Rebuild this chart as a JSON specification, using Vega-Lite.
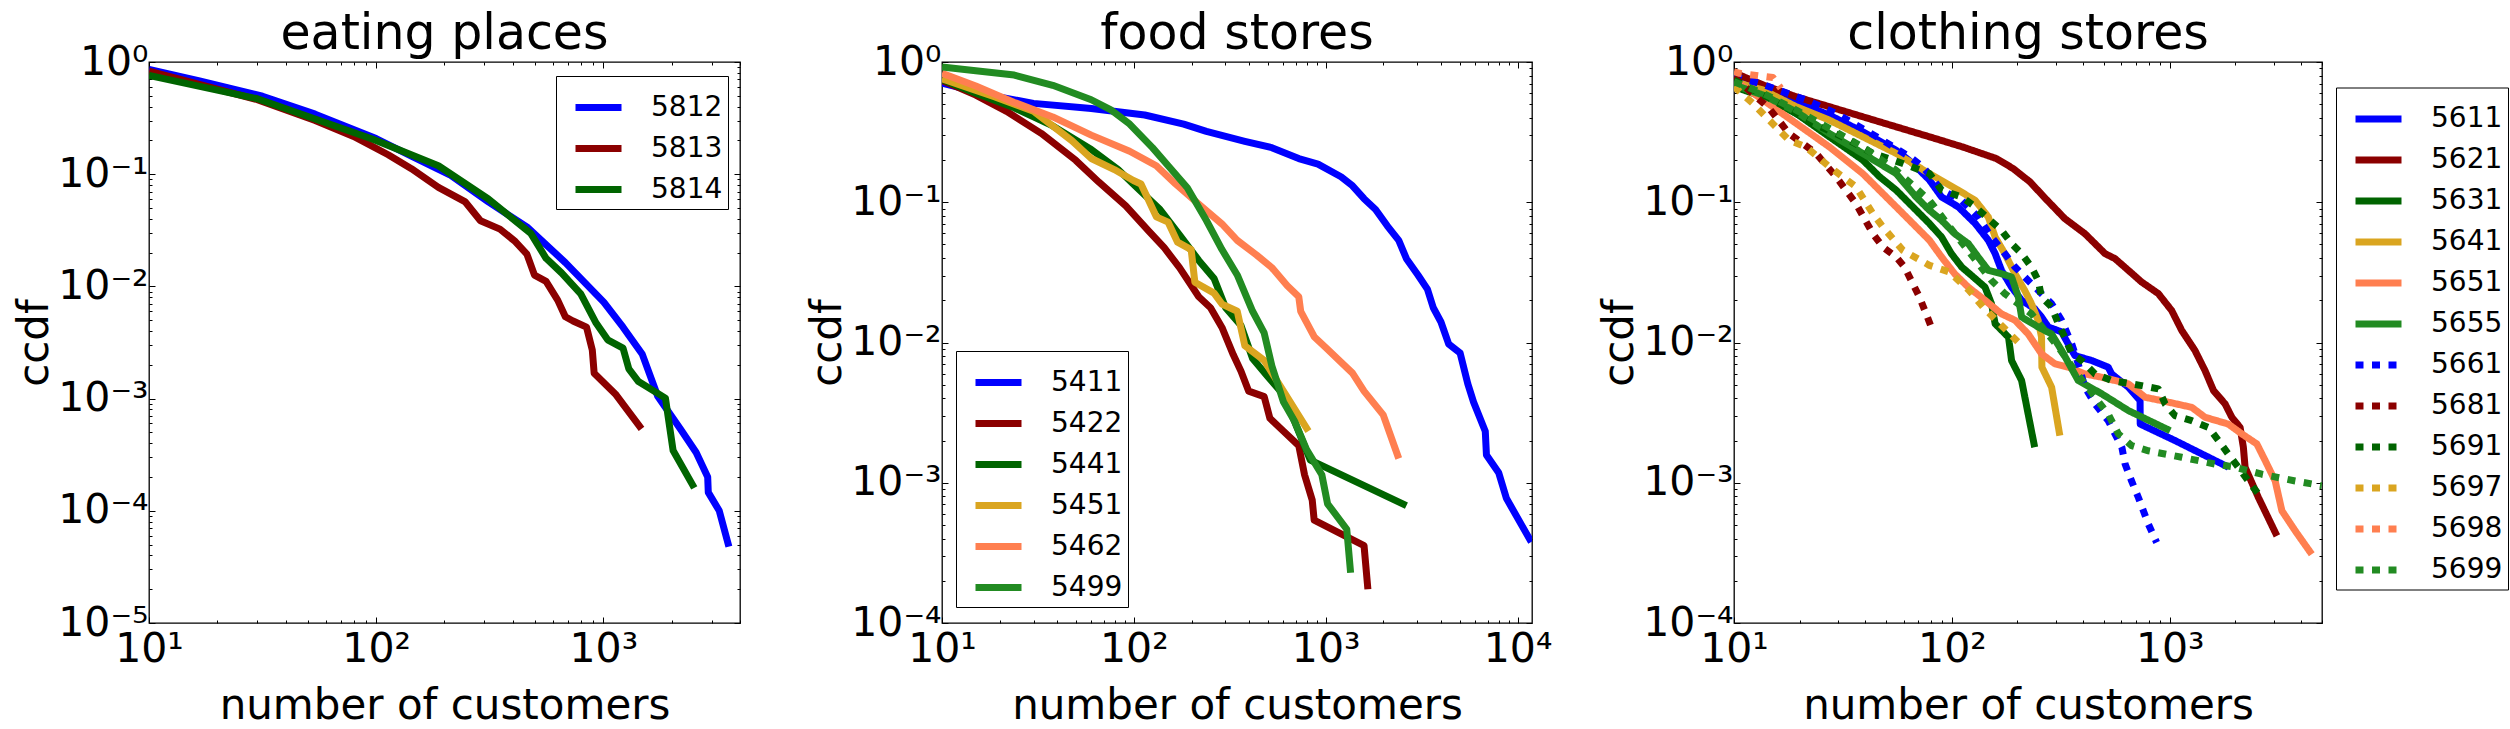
{
  "$schema": "https://vega.github.io/schema/vega-lite/v6.json",
  "background": "white",
  "padding": {"left": 12, "top": 9, "right": 5, "bottom": 0},
  "bounds": "flush",
  "spacing": 202,
  "config": {
    "font": "DejaVu Sans",
    "view": {"stroke": "black", "strokeWidth": 1.3, "fill": "white"},
    "axis": {"grid": false, "domain": false, "minExtent": 0, "labelFont": "DejaVu Sans", "labelFontSize": 41, "labelColor": "black", "titleFont": "DejaVu Sans", "titleFontSize": 42, "titleFontWeight": "normal", "titleColor": "black", "tickColor": "black", "tickWidth": 1, "labelFlush": false, "labelOverlap": false},
    "legend": {"symbolType": "stroke", "symbolStrokeWidth": 7, "symbolSize": 2116, "symbolOffset": 11, "labelFontSize": 28, "labelFont": "DejaVu Sans", "labelColor": "black", "labelOffset": 26, "strokeColor": "black", "fillColor": "white", "padding": 5, "rowPadding": 0, "direction": "vertical", "labelLimit": 0},
    "title": {"font": "DejaVu Sans", "fontSize": 49, "fontWeight": "normal", "color": "black", "anchor": "middle", "frame": "group", "offset": -18, "baseline": "alphabetic"},
    "line": {"strokeWidth": 7, "strokeJoin": "round", "strokeCap": "butt"}
  },
  "resolve": {"scale": {"color": "independent", "strokeDash": "independent", "x": "independent", "y": "independent"}, "legend": {"color": "independent", "strokeDash": "independent"}},
  "datasets": {
    "eating": [
      {"code":"5812","n":10,"ccdf":0.857},{"code":"5812","n":16.7,"ccdf":0.68},{"code":"5812","n":31.6,"ccdf":0.495},{"code":"5812","n":53.9,"ccdf":0.343},{"code":"5812","n":100,"ccdf":0.208},{"code":"5812","n":143,"ccdf":0.145},{"code":"5812","n":211,"ccdf":0.0989},{"code":"5812","n":312,"ccdf":0.0566},{"code":"5812","n":461,"ccdf":0.0339},{"code":"5812","n":681,"ccdf":0.0163},{"code":"5812","n":1005,"ccdf":0.00724},{"code":"5812","n":1222,"ccdf":0.00433},{"code":"5812","n":1486,"ccdf":0.00248},{"code":"5812","n":1737,"ccdf":0.00105},{"code":"5812","n":2194,"ccdf":0.00053},{"code":"5812","n":2565,"ccdf":0.000331},{"code":"5812","n":2883,"ccdf":0.0002},{"code":"5812","n":2900,"ccdf":0.000146},{"code":"5812","n":3242,"ccdf":0.0001},{"code":"5812","n":3574,"ccdf":0.0000479},
      {"code":"5813","n":10,"ccdf":0.828},{"code":"5813","n":30,"ccdf":0.462},{"code":"5813","n":53.9,"ccdf":0.301},{"code":"5813","n":79.6,"ccdf":0.217},{"code":"5813","n":113,"ccdf":0.149},{"code":"5813","n":143,"ccdf":0.112},{"code":"5813","n":188,"ccdf":0.0764},{"code":"5813","n":247,"ccdf":0.0566},{"code":"5813","n":288,"ccdf":0.0385},{"code":"5813","n":351,"ccdf":0.0324},{"code":"5813","n":410,"ccdf":0.0251},{"code":"5813","n":461,"ccdf":0.0194},{"code":"5813","n":498,"ccdf":0.0126},{"code":"5813","n":560,"ccdf":0.0111},{"code":"5813","n":630,"ccdf":0.00755},{"code":"5813","n":681,"ccdf":0.00536},{"code":"5813","n":736,"ccdf":0.00492},{"code":"5813","n":844,"ccdf":0.00433},{"code":"5813","n":895,"ccdf":0.0027},{"code":"5813","n":912,"ccdf":0.00168},{"code":"5813","n":1130,"ccdf":0.0011},{"code":"5813","n":1474,"ccdf":0.000538},
      {"code":"5814","n":10,"ccdf":0.76},{"code":"5814","n":30,"ccdf":0.47},{"code":"5814","n":96.8,"ccdf":0.205},{"code":"5814","n":188,"ccdf":0.119},{"code":"5814","n":312,"ccdf":0.0601},{"code":"5814","n":479,"ccdf":0.0298},{"code":"5814","n":560,"ccdf":0.0178},{"code":"5814","n":655,"ccdf":0.0132},{"code":"5814","n":796,"ccdf":0.00859},{"code":"5814","n":930,"ccdf":0.00471},{"code":"5814","n":1046,"ccdf":0.00334},{"code":"5814","n":1222,"ccdf":0.00282},{"code":"5814","n":1296,"ccdf":0.00184},{"code":"5814","n":1429,"ccdf":0.00142},{"code":"5814","n":1878,"ccdf":0.00101},{"code":"5814","n":2030,"ccdf":0.000345},{"code":"5814","n":2516,"ccdf":0.00016}
    ],
    "food": [
      {"code":"5411","n":10,"ccdf":0.708},{"code":"5411","n":18.9,"ccdf":0.57},{"code":"5411","n":30,"ccdf":0.507},{"code":"5411","n":60,"ccdf":0.466},{"code":"5411","n":114,"ccdf":0.419},{"code":"5411","n":182,"ccdf":0.361},{"code":"5411","n":239,"ccdf":0.32},{"code":"5411","n":379,"ccdf":0.272},{"code":"5411","n":524,"ccdf":0.245},{"code":"5411","n":724,"ccdf":0.205},{"code":"5411","n":912,"ccdf":0.187},{"code":"5411","n":1202,"ccdf":0.152},{"code":"5411","n":1380,"ccdf":0.131},{"code":"5411","n":1585,"ccdf":0.106},{"code":"5411","n":1820,"ccdf":0.0887},{"code":"5411","n":2094,"ccdf":0.0679},{"code":"5411","n":2404,"ccdf":0.0535},{"code":"5411","n":2636,"ccdf":0.0396},{"code":"5411","n":3027,"ccdf":0.0303},{"code":"5411","n":3396,"ccdf":0.0239},{"code":"5411","n":3639,"ccdf":0.0177},{"code":"5411","n":3990,"ccdf":0.014},{"code":"5411","n":4375,"ccdf":0.00977},{"code":"5411","n":5023,"ccdf":0.00841},{"code":"5411","n":5508,"ccdf":0.00507},{"code":"5411","n":5902,"ccdf":0.00376},{"code":"5411","n":6792,"ccdf":0.00233},{"code":"5411","n":6887,"ccdf":0.00158},{"code":"5411","n":7980,"ccdf":0.00118},{"code":"5411","n":8750,"ccdf":0.000774},{"code":"5411","n":11800,"ccdf":0.000378},
      {"code":"5422","n":10,"ccdf":0.738},{"code":"5422","n":15,"ccdf":0.581},{"code":"5422","n":21.7,"ccdf":0.445},{"code":"5422","n":32.9,"ccdf":0.31},{"code":"5422","n":49.8,"ccdf":0.199},{"code":"5422","n":65.8,"ccdf":0.139},{"code":"5422","n":90.8,"ccdf":0.0942},{"code":"5422","n":120,"ccdf":0.0621},{"code":"5422","n":144,"ccdf":0.0474},{"code":"5422","n":173,"ccdf":0.0342},{"code":"5422","n":218,"ccdf":0.0212},{"code":"5422","n":251,"ccdf":0.0177},{"code":"5422","n":288,"ccdf":0.0128},{"code":"5422","n":330,"ccdf":0.00817},{"code":"5422","n":362,"ccdf":0.00624},{"code":"5422","n":397,"ccdf":0.0045},{"code":"5422","n":478,"ccdf":0.00411},{"code":"5422","n":512,"ccdf":0.00288},{"code":"5422","n":603,"ccdf":0.00233},{"code":"5422","n":724,"ccdf":0.00184},{"code":"5422","n":776,"ccdf":0.00114},{"code":"5422","n":851,"ccdf":0.000752},{"code":"5422","n":871,"ccdf":0.000541},{"code":"5422","n":1585,"ccdf":0.000356},{"code":"5422","n":1660,"ccdf":0.000174},
      {"code":"5441","n":10,"ccdf":0.752},{"code":"5441","n":15,"ccdf":0.598},{"code":"5441","n":23.8,"ccdf":0.472},{"code":"5441","n":37.8,"ccdf":0.35},{"code":"5441","n":60,"ccdf":0.238},{"code":"5441","n":82.8,"ccdf":0.171},{"code":"5441","n":104,"ccdf":0.127},{"code":"5441","n":137,"ccdf":0.0887},{"code":"5441","n":173,"ccdf":0.0585},{"code":"5441","n":218,"ccdf":0.0385},{"code":"5441","n":262,"ccdf":0.0286},{"code":"5441","n":301,"ccdf":0.0177},{"code":"5441","n":362,"ccdf":0.0132},{"code":"5441","n":416,"ccdf":0.00769},{"code":"5441","n":500,"ccdf":0.0057},{"code":"5441","n":603,"ccdf":0.00424},{"code":"5441","n":832,"ccdf":0.00145},{"code":"5441","n":2636,"ccdf":0.000687},
      {"code":"5451","n":10,"ccdf":0.76},{"code":"5451","n":18.9,"ccdf":0.564},{"code":"5451","n":30,"ccdf":0.445},{"code":"5451","n":47.5,"ccdf":0.275},{"code":"5451","n":60,"ccdf":0.205},{"code":"5451","n":79.1,"ccdf":0.171},{"code":"5451","n":99.5,"ccdf":0.143},{"code":"5451","n":109,"ccdf":0.135},{"code":"5451","n":131,"ccdf":0.0787},{"code":"5451","n":151,"ccdf":0.0721},{"code":"5451","n":169,"ccdf":0.0519},{"code":"5451","n":199,"ccdf":0.046},{"code":"5451","n":208,"ccdf":0.0269},{"code":"5451","n":262,"ccdf":0.0225},{"code":"5451","n":288,"ccdf":0.0188},{"code":"5451","n":346,"ccdf":0.0167},{"code":"5451","n":379,"ccdf":0.00948},{"code":"5451","n":478,"ccdf":0.00746},{"code":"5451","n":813,"ccdf":0.00233},
      {"code":"5462","n":10,"ccdf":0.832},{"code":"5462","n":15,"ccdf":0.675},{"code":"5462","n":23.8,"ccdf":0.515},{"code":"5462","n":37.8,"ccdf":0.406},{"code":"5462","n":60,"ccdf":0.301},{"code":"5462","n":95.1,"ccdf":0.231},{"code":"5462","n":131,"ccdf":0.182},{"code":"5462","n":165,"ccdf":0.135},{"code":"5462","n":218,"ccdf":0.0971},{"code":"5462","n":288,"ccdf":0.07},{"code":"5462","n":346,"ccdf":0.0535},{"code":"5462","n":436,"ccdf":0.0421},{"code":"5462","n":524,"ccdf":0.0342},{"code":"5462","n":631,"ccdf":0.0254},{"code":"5462","n":724,"ccdf":0.0212},{"code":"5462","n":741,"ccdf":0.0167},{"code":"5462","n":871,"ccdf":0.011},{"code":"5462","n":1000,"ccdf":0.0092},{"code":"5462","n":1380,"ccdf":0.00605},{"code":"5462","n":1585,"ccdf":0.0045},{"code":"5462","n":1995,"ccdf":0.00305},{"code":"5462","n":2404,"ccdf":0.00149},
      {"code":"5499","n":10,"ccdf":0.92},{"code":"5499","n":15,"ccdf":0.867},{"code":"5499","n":23.8,"ccdf":0.807},{"code":"5499","n":37.8,"ccdf":0.682},{"code":"5499","n":60,"ccdf":0.538},{"code":"5499","n":75.5,"ccdf":0.458},{"code":"5499","n":95.1,"ccdf":0.361},{"code":"5499","n":125,"ccdf":0.245},{"code":"5499","n":151,"ccdf":0.182},{"code":"5499","n":190,"ccdf":0.127},{"code":"5499","n":239,"ccdf":0.0741},{"code":"5499","n":288,"ccdf":0.046},{"code":"5499","n":346,"ccdf":0.0303},{"code":"5499","n":416,"ccdf":0.0167},{"code":"5499","n":478,"ccdf":0.0117},{"code":"5499","n":524,"ccdf":0.00682},{"code":"5499","n":603,"ccdf":0.00376},{"code":"5499","n":692,"ccdf":0.00271},{"code":"5499","n":794,"ccdf":0.00173},{"code":"5499","n":955,"ccdf":0.00114},{"code":"5499","n":1023,"ccdf":0.000708},{"code":"5499","n":1288,"ccdf":0.000466},{"code":"5499","n":1349,"ccdf":0.000228}
    ],
    "clothing": [
      {"code":"5611","n":10,"ccdf":0.807},{"code":"5611","n":13.6,"ccdf":0.667},{"code":"5611","n":19.3,"ccdf":0.521},{"code":"5611","n":27.4,"ccdf":0.418},{"code":"5611","n":39,"ccdf":0.318},{"code":"5611","n":55.5,"ccdf":0.235},{"code":"5611","n":66.2,"ccdf":0.189},{"code":"5611","n":78.9,"ccdf":0.144},{"code":"5611","n":89.7,"ccdf":0.109},{"code":"5611","n":107,"ccdf":0.0927},{"code":"5611","n":128,"ccdf":0.0705},{"code":"5611","n":147,"ccdf":0.0536},{"code":"5611","n":158,"ccdf":0.043},{"code":"5611","n":169,"ccdf":0.0327},{"code":"5611","n":188,"ccdf":0.0248},{"code":"5611","n":209,"ccdf":0.02},{"code":"5611","n":240,"ccdf":0.0174},{"code":"5611","n":258,"ccdf":0.0152},{"code":"5611","n":277,"ccdf":0.0129},{"code":"5611","n":319,"ccdf":0.0119},{"code":"5611","n":342,"ccdf":0.00977},{"code":"5611","n":367,"ccdf":0.00807},{"code":"5611","n":439,"ccdf":0.00743},{"code":"5611","n":522,"ccdf":0.00667},{"code":"5611","n":541,"ccdf":0.00597},{"code":"5611","n":646,"ccdf":0.0048},{"code":"5611","n":731,"ccdf":0.00385},{"code":"5611","n":732,"ccdf":0.00262},{"code":"5611","n":1057,"ccdf":0.002},{"code":"5611","n":1862,"ccdf":0.00129},
      {"code":"5621","n":10,"ccdf":0.839},{"code":"5621","n":13.6,"ccdf":0.686},{"code":"5621","n":19.3,"ccdf":0.565},{"code":"5621","n":27.4,"ccdf":0.48},{"code":"5621","n":39,"ccdf":0.407},{"code":"5621","n":55.5,"ccdf":0.345},{"code":"5621","n":78.9,"ccdf":0.293},{"code":"5621","n":112,"ccdf":0.248},{"code":"5621","n":160,"ccdf":0.205},{"code":"5621","n":191,"ccdf":0.174},{"code":"5621","n":228,"ccdf":0.14},{"code":"5621","n":271,"ccdf":0.105},{"code":"5621","n":330,"ccdf":0.0764},{"code":"5621","n":408,"ccdf":0.0597},{"code":"5621","n":505,"ccdf":0.043},{"code":"5621","n":561,"ccdf":0.0396},{"code":"5621","n":646,"ccdf":0.0327},{"code":"5621","n":743,"ccdf":0.027},{"code":"5621","n":887,"ccdf":0.0223},{"code":"5621","n":1021,"ccdf":0.0169},{"code":"5621","n":1135,"ccdf":0.0122},{"code":"5621","n":1306,"ccdf":0.00877},{"code":"5621","n":1452,"ccdf":0.00631},{"code":"5621","n":1589,"ccdf":0.00454},{"code":"5621","n":1795,"ccdf":0.00365},{"code":"5621","n":1928,"ccdf":0.00293},{"code":"5621","n":2104,"ccdf":0.00248},{"code":"5621","n":2178,"ccdf":0.00179},{"code":"5621","n":2218,"ccdf":0.00129},{"code":"5621","n":2553,"ccdf":0.000785},{"code":"5621","n":3105,"ccdf":0.000418},
      {"code":"5631","n":10,"ccdf":0.667},{"code":"5631","n":13.6,"ccdf":0.565},{"code":"5631","n":19.3,"ccdf":0.43},{"code":"5631","n":27.4,"ccdf":0.293},{"code":"5631","n":39,"ccdf":0.2},{"code":"5631","n":46.6,"ccdf":0.152},{"code":"5631","n":55.5,"ccdf":0.122},{"code":"5631","n":66.2,"ccdf":0.0927},{"code":"5631","n":78.9,"ccdf":0.0705},{"code":"5631","n":89.7,"ccdf":0.0565},{"code":"5631","n":99.5,"ccdf":0.043},{"code":"5631","n":111,"ccdf":0.0345},{"code":"5631","n":123,"ccdf":0.0301},{"code":"5631","n":142,"ccdf":0.0248},{"code":"5631","n":152,"ccdf":0.0189},{"code":"5631","n":158,"ccdf":0.0136},{"code":"5631","n":182,"ccdf":0.0109},{"code":"5631","n":188,"ccdf":0.00743},{"code":"5631","n":209,"ccdf":0.00536},{"code":"5631","n":224,"ccdf":0.00309},{"code":"5631","n":240,"ccdf":0.00179},
      {"code":"5641","n":10,"ccdf":0.724},{"code":"5641","n":13.6,"ccdf":0.631},{"code":"5641","n":19.3,"ccdf":0.48},{"code":"5641","n":27.4,"ccdf":0.385},{"code":"5641","n":39,"ccdf":0.293},{"code":"5641","n":55.5,"ccdf":0.223},{"code":"5641","n":78.9,"ccdf":0.16},{"code":"5641","n":107,"ccdf":0.122},{"code":"5641","n":128,"ccdf":0.103},{"code":"5641","n":147,"ccdf":0.0785},{"code":"5641","n":158,"ccdf":0.0565},{"code":"5641","n":175,"ccdf":0.043},{"code":"5641","n":195,"ccdf":0.0309},{"code":"5641","n":216,"ccdf":0.0235},{"code":"5641","n":232,"ccdf":0.0189},{"code":"5641","n":249,"ccdf":0.0144},{"code":"5641","n":258,"ccdf":0.0109},{"code":"5641","n":259,"ccdf":0.00667},{"code":"5641","n":287,"ccdf":0.0048},{"code":"5641","n":313,"ccdf":0.00217},
      {"code":"5651","n":10,"ccdf":0.743},{"code":"5651","n":13.6,"ccdf":0.536},{"code":"5651","n":19.3,"ccdf":0.365},{"code":"5651","n":27.4,"ccdf":0.248},{"code":"5651","n":39,"ccdf":0.16},{"code":"5651","n":55.5,"ccdf":0.0927},{"code":"5651","n":78.9,"ccdf":0.0536},{"code":"5651","n":89.7,"ccdf":0.0407},{"code":"5651","n":103,"ccdf":0.0309},{"code":"5651","n":119,"ccdf":0.0248},{"code":"5651","n":142,"ccdf":0.02},{"code":"5651","n":169,"ccdf":0.016},{"code":"5651","n":195,"ccdf":0.0144},{"code":"5651","n":224,"ccdf":0.0115},{"code":"5651","n":258,"ccdf":0.0083},{"code":"5651","n":297,"ccdf":0.00705},{"code":"5651","n":342,"ccdf":0.00667},{"code":"5651","n":408,"ccdf":0.00597},{"code":"5651","n":488,"ccdf":0.00565},{"code":"5651","n":646,"ccdf":0.00507},{"code":"5651","n":771,"ccdf":0.00407},{"code":"5651","n":918,"ccdf":0.00385},{"code":"5651","n":1262,"ccdf":0.00345},{"code":"5651","n":1452,"ccdf":0.00293},{"code":"5651","n":1858,"ccdf":0.00262},{"code":"5651","n":2143,"ccdf":0.00223},{"code":"5651","n":2512,"ccdf":0.00189},{"code":"5651","n":2742,"ccdf":0.00144},{"code":"5651","n":3048,"ccdf":0.00103},{"code":"5651","n":3273,"ccdf":0.000631},{"code":"5651","n":3767,"ccdf":0.000454},{"code":"5651","n":4487,"ccdf":0.000309},
      {"code":"5655","n":10,"ccdf":0.686},{"code":"5655","n":13.6,"ccdf":0.581},{"code":"5655","n":19.3,"ccdf":0.442},{"code":"5655","n":27.4,"ccdf":0.309},{"code":"5655","n":39,"ccdf":0.223},{"code":"5655","n":55.5,"ccdf":0.16},{"code":"5655","n":68.5,"ccdf":0.109},{"code":"5655","n":78.9,"ccdf":0.0877},{"code":"5655","n":89.7,"ccdf":0.0743},{"code":"5655","n":103,"ccdf":0.0597},{"code":"5655","n":119,"ccdf":0.0507},{"code":"5655","n":132,"ccdf":0.0407},{"code":"5655","n":147,"ccdf":0.0327},{"code":"5655","n":169,"ccdf":0.0309},{"code":"5655","n":188,"ccdf":0.0293},{"code":"5655","n":202,"ccdf":0.0211},{"code":"5655","n":209,"ccdf":0.0152},{"code":"5655","n":249,"ccdf":0.0129},{"code":"5655","n":287,"ccdf":0.0115},{"code":"5655","n":319,"ccdf":0.00877},{"code":"5655","n":380,"ccdf":0.00536},{"code":"5655","n":488,"ccdf":0.0043},{"code":"5655","n":646,"ccdf":0.00327},{"code":"5655","n":1005,"ccdf":0.00235},
      {"code":"5661","n":10,"ccdf":0.785},{"code":"5661","n":13.1,"ccdf":0.705},{"code":"5661","n":21.4,"ccdf":0.536},{"code":"5661","n":29.4,"ccdf":0.43},{"code":"5661","n":46.6,"ccdf":0.285},{"code":"5661","n":64,"ccdf":0.211},{"code":"5661","n":73.6,"ccdf":0.179},{"code":"5661","n":89.7,"ccdf":0.122},{"code":"5661","n":111,"ccdf":0.103},{"code":"5661","n":132,"ccdf":0.0785},{"code":"5661","n":152,"ccdf":0.0565},{"code":"5661","n":175,"ccdf":0.043},{"code":"5661","n":195,"ccdf":0.0345},{"code":"5661","n":224,"ccdf":0.0277},{"code":"5661","n":258,"ccdf":0.0223},{"code":"5661","n":287,"ccdf":0.0189},{"code":"5661","n":319,"ccdf":0.0144},{"code":"5661","n":355,"ccdf":0.00977},{"code":"5661","n":380,"ccdf":0.00705},{"code":"5661","n":408,"ccdf":0.0048},{"code":"5661","n":454,"ccdf":0.00365},{"code":"5661","n":522,"ccdf":0.00277},{"code":"5661","n":603,"ccdf":0.00179},{"code":"5661","n":624,"ccdf":0.00136},{"code":"5661","n":668,"ccdf":0.00103},{"code":"5661","n":718,"ccdf":0.000785},{"code":"5661","n":798,"ccdf":0.000507},{"code":"5661","n":871,"ccdf":0.000375},
      {"code":"5681","n":10,"ccdf":0.785},{"code":"5681","n":14.5,"ccdf":0.467},{"code":"5681","n":17.9,"ccdf":0.309},{"code":"5681","n":23.8,"ccdf":0.223},{"code":"5681","n":29.4,"ccdf":0.152},{"code":"5681","n":36.3,"ccdf":0.0977},{"code":"5681","n":43.4,"ccdf":0.0597},{"code":"5681","n":48.2,"ccdf":0.048},{"code":"5681","n":55.5,"ccdf":0.0407},{"code":"5681","n":60.7,"ccdf":0.0345},{"code":"5681","n":66.2,"ccdf":0.0262},{"code":"5681","n":71,"ccdf":0.0211},{"code":"5681","n":76.2,"ccdf":0.016},{"code":"5681","n":80.4,"ccdf":0.0129},
      {"code":"5691","n":10,"ccdf":0.743},{"code":"5691","n":15.1,"ccdf":0.536},{"code":"5691","n":23,"ccdf":0.365},{"code":"5691","n":32.7,"ccdf":0.285},{"code":"5691","n":43.4,"ccdf":0.223},{"code":"5691","n":59.6,"ccdf":0.189},{"code":"5691","n":78.9,"ccdf":0.16},{"code":"5691","n":89.7,"ccdf":0.122},{"code":"5691","n":111,"ccdf":0.109},{"code":"5691","n":128,"ccdf":0.0927},{"code":"5691","n":147,"ccdf":0.0764},{"code":"5691","n":169,"ccdf":0.0631},{"code":"5691","n":188,"ccdf":0.0507},{"code":"5691","n":209,"ccdf":0.043},{"code":"5691","n":232,"ccdf":0.0345},{"code":"5691","n":249,"ccdf":0.0277},{"code":"5691","n":258,"ccdf":0.0211},{"code":"5691","n":287,"ccdf":0.0179},{"code":"5691","n":308,"ccdf":0.0136},{"code":"5691","n":330,"ccdf":0.0109},{"code":"5691","n":355,"ccdf":0.0083},{"code":"5691","n":394,"ccdf":0.00743},{"code":"5691","n":454,"ccdf":0.00597},{"code":"5691","n":541,"ccdf":0.00536},{"code":"5691","n":743,"ccdf":0.00493},{"code":"5691","n":887,"ccdf":0.00467},{"code":"5691","n":953,"ccdf":0.00365},{"code":"5691","n":1057,"ccdf":0.00301},{"code":"5691","n":1262,"ccdf":0.00277},{"code":"5691","n":1507,"ccdf":0.00248},{"code":"5691","n":1675,"ccdf":0.002},{"code":"5691","n":1858,"ccdf":0.0016},{"code":"5691","n":2065,"ccdf":0.00129},{"code":"5691","n":2296,"ccdf":0.00103},{"code":"5691","n":2553,"ccdf":0.00083},
      {"code":"5697","n":10,"ccdf":0.667},{"code":"5697","n":12.2,"ccdf":0.507},{"code":"5697","n":14.5,"ccdf":0.385},{"code":"5697","n":17.9,"ccdf":0.277},{"code":"5697","n":21.4,"ccdf":0.248},{"code":"5697","n":27.4,"ccdf":0.179},{"code":"5697","n":36.3,"ccdf":0.129},{"code":"5697","n":43.4,"ccdf":0.083},{"code":"5697","n":48.2,"ccdf":0.0667},{"code":"5697","n":59.6,"ccdf":0.0454},{"code":"5697","n":78.9,"ccdf":0.0355},{"code":"5697","n":97.5,"ccdf":0.0318},{"code":"5697","n":120,"ccdf":0.0235},{"code":"5697","n":139,"ccdf":0.0179},{"code":"5697","n":160,"ccdf":0.0144},{"code":"5697","n":178,"ccdf":0.0122},{"code":"5697","n":212,"ccdf":0.00927},
      {"code":"5698","n":10,"ccdf":0.853},{"code":"5698","n":10.6,"ccdf":0.83},{"code":"5698","n":15.1,"ccdf":0.776},{"code":"5698","n":16.4,"ccdf":0.649},
      {"code":"5699","n":10,"ccdf":0.724},{"code":"5699","n":13.6,"ccdf":0.597},{"code":"5699","n":19.3,"ccdf":0.454},{"code":"5699","n":27.4,"ccdf":0.336},{"code":"5699","n":39,"ccdf":0.248},{"code":"5699","n":55.5,"ccdf":0.169},{"code":"5699","n":78.9,"ccdf":0.103},{"code":"5699","n":112,"ccdf":0.0507},{"code":"5699","n":152,"ccdf":0.0277},{"code":"5699","n":175,"ccdf":0.0223},{"code":"5699","n":232,"ccdf":0.016},{"code":"5699","n":308,"ccdf":0.00927},{"code":"5699","n":367,"ccdf":0.00631},{"code":"5699","n":408,"ccdf":0.00507},{"code":"5699","n":454,"ccdf":0.00407},{"code":"5699","n":522,"ccdf":0.00309},{"code":"5699","n":581,"ccdf":0.00223},{"code":"5699","n":668,"ccdf":0.00184},{"code":"5699","n":798,"ccdf":0.00169},{"code":"5699","n":1135,"ccdf":0.00152},{"code":"5699","n":1614,"ccdf":0.00136},{"code":"5699","n":1995,"ccdf":0.00129},{"code":"5699","n":2649,"ccdf":0.00115},{"code":"5699","n":3767,"ccdf":0.00103},{"code":"5699","n":4989,"ccdf":0.000953}
    ]
  },
  "hconcat": [
    {
      "width": 591, "height": 561,
      "title": {"text": "eating places"},
      "data": {"name": "eating"},
      "layer": [
        {
          "mark": {"type": "line", "clip": true},
          "encoding": {
            "x": {"field": "n", "type": "quantitative", "scale": {"type": "log", "domain": [10, 4000], "nice": false},
              "axis": {"orient": "bottom", "title": "number of customers", "titleY": 95, "titleBaseline": "alphabetic", "labelPadding": 12, "labelBaseline": "top",
                "values": [10,20,30,40,50,60,70,80,90,100,200,300,400,500,600,700,800,900,1000,2000,3000,4000],
                "labelExpr": "abs(log(datum.value)/LN10 - round(log(datum.value)/LN10)) < 0.01 ? '10' + (datum.value < 0.5 ? '⁻' : '') + ['⁰','¹','²','³','⁴','⁵'][abs(round(log(datum.value)/LN10))] : ''",
                "tickSize": {"condition": {"test": "abs(log(datum.value)/LN10 - round(log(datum.value)/LN10)) < 0.01", "value": -6}, "value": -3}}},
            "y": {"field": "ccdf", "type": "quantitative", "scale": {"type": "log", "domain": [0.00001, 1], "nice": false},
              "axis": {"orient": "left", "title": "ccdf", "titleX": -102, "titleY": 280.5, "titleAngle": -90, "titleBaseline": "alphabetic", "titleAlign": "center", "labelPadding": 7, "labelBaseline": "middle",
                "values": [0.00001,0.00002,0.00003,0.00004,0.00005,0.00006,0.00007,0.00008,0.00009,0.0001,0.0002,0.0003,0.0004,0.0005,0.0006,0.0007,0.0008,0.0009,0.001,0.002,0.003,0.004,0.005,0.006,0.007,0.008,0.009,0.01,0.02,0.03,0.04,0.05,0.06,0.07,0.08,0.09,0.1,0.2,0.3,0.4,0.5,0.6,0.7,0.8,0.9,1],
                "labelExpr": "abs(log(datum.value)/LN10 - round(log(datum.value)/LN10)) < 0.01 ? '10' + (datum.value < 0.5 ? '⁻' : '') + ['⁰','¹','²','³','⁴','⁵'][abs(round(log(datum.value)/LN10))] : ''",
                "tickSize": {"condition": {"test": "abs(log(datum.value)/LN10 - round(log(datum.value)/LN10)) < 0.01", "value": -6}, "value": -3}}},
            "color": {"field": "code", "type": "nominal",
              "scale": {"domain": ["5812","5813","5814"], "range": ["#0000ff","#8b0000","#006400"]},
              "legend": {"title": null, "orient": "none", "legendX": 407, "legendY": 14}}
          }
        },
        {
          "mark": {"type": "point", "opacity": 0},
          "encoding": {
            "x": {"field": "n", "type": "quantitative", "scale": {"type": "log", "domain": [10, 4000], "nice": false},
              "axis": {"orient": "top", "title": null, "labels": false, "minExtent": 0, "maxExtent": 0,
                "values": [10,20,30,40,50,60,70,80,90,100,200,300,400,500,600,700,800,900,1000,2000,3000,4000],
                "tickSize": {"condition": {"test": "abs(log(datum.value)/LN10 - round(log(datum.value)/LN10)) < 0.01", "value": -6}, "value": -3}}},
            "y": {"field": "ccdf", "type": "quantitative", "scale": {"type": "log", "domain": [0.00001, 1], "nice": false},
              "axis": {"orient": "right", "title": null, "labels": false, "minExtent": 0, "maxExtent": 0,
                "values": [0.00001,0.00002,0.00003,0.00004,0.00005,0.00006,0.00007,0.00008,0.00009,0.0001,0.0002,0.0003,0.0004,0.0005,0.0006,0.0007,0.0008,0.0009,0.001,0.002,0.003,0.004,0.005,0.006,0.007,0.008,0.009,0.01,0.02,0.03,0.04,0.05,0.06,0.07,0.08,0.09,0.1,0.2,0.3,0.4,0.5,0.6,0.7,0.8,0.9,1],
                "tickSize": {"condition": {"test": "abs(log(datum.value)/LN10 - round(log(datum.value)/LN10)) < 0.01", "value": -6}, "value": -3}}}
          }
        }
      ]
    },
    {
      "width": 590, "height": 561,
      "title": {"text": "food stores"},
      "data": {"name": "food"},
      "layer": [
        {
          "mark": {"type": "line", "clip": true},
          "encoding": {
            "x": {"field": "n", "type": "quantitative", "scale": {"type": "log", "domain": [10, 11900], "nice": false},
              "axis": {"orient": "bottom", "title": "number of customers", "titleY": 95, "titleBaseline": "alphabetic", "labelPadding": 12, "labelBaseline": "top",
                "values": [10,20,30,40,50,60,70,80,90,100,200,300,400,500,600,700,800,900,1000,2000,3000,4000,5000,6000,7000,8000,9000,10000],
                "labelExpr": "abs(log(datum.value)/LN10 - round(log(datum.value)/LN10)) < 0.01 ? '10' + (datum.value < 0.5 ? '⁻' : '') + ['⁰','¹','²','³','⁴','⁵'][abs(round(log(datum.value)/LN10))] : ''",
                "tickSize": {"condition": {"test": "abs(log(datum.value)/LN10 - round(log(datum.value)/LN10)) < 0.01", "value": -6}, "value": -3}}},
            "y": {"field": "ccdf", "type": "quantitative", "scale": {"type": "log", "domain": [0.0001, 1], "nice": false},
              "axis": {"orient": "left", "title": "ccdf", "titleX": -102, "titleY": 280.5, "titleAngle": -90, "titleBaseline": "alphabetic", "titleAlign": "center", "labelPadding": 7, "labelBaseline": "middle",
                "values": [0.0001,0.0002,0.0003,0.0004,0.0005,0.0006,0.0007,0.0008,0.0009,0.001,0.002,0.003,0.004,0.005,0.006,0.007,0.008,0.009,0.01,0.02,0.03,0.04,0.05,0.06,0.07,0.08,0.09,0.1,0.2,0.3,0.4,0.5,0.6,0.7,0.8,0.9,1],
                "labelExpr": "abs(log(datum.value)/LN10 - round(log(datum.value)/LN10)) < 0.01 ? '10' + (datum.value < 0.5 ? '⁻' : '') + ['⁰','¹','²','³','⁴','⁵'][abs(round(log(datum.value)/LN10))] : ''",
                "tickSize": {"condition": {"test": "abs(log(datum.value)/LN10 - round(log(datum.value)/LN10)) < 0.01", "value": -6}, "value": -3}}},
            "color": {"field": "code", "type": "nominal",
              "scale": {"domain": ["5411","5422","5441","5451","5462","5499"], "range": ["#0000ff","#8b0000","#006400","#daa520","#ff7f50","#228b22"]},
              "legend": {"title": null, "orient": "none", "legendX": 14, "legendY": 289}}
          }
        },
        {
          "mark": {"type": "point", "opacity": 0},
          "encoding": {
            "x": {"field": "n", "type": "quantitative", "scale": {"type": "log", "domain": [10, 11900], "nice": false},
              "axis": {"orient": "top", "title": null, "labels": false, "minExtent": 0, "maxExtent": 0,
                "values": [10,20,30,40,50,60,70,80,90,100,200,300,400,500,600,700,800,900,1000,2000,3000,4000,5000,6000,7000,8000,9000,10000],
                "tickSize": {"condition": {"test": "abs(log(datum.value)/LN10 - round(log(datum.value)/LN10)) < 0.01", "value": -6}, "value": -3}}},
            "y": {"field": "ccdf", "type": "quantitative", "scale": {"type": "log", "domain": [0.0001, 1], "nice": false},
              "axis": {"orient": "right", "title": null, "labels": false, "minExtent": 0, "maxExtent": 0,
                "values": [0.0001,0.0002,0.0003,0.0004,0.0005,0.0006,0.0007,0.0008,0.0009,0.001,0.002,0.003,0.004,0.005,0.006,0.007,0.008,0.009,0.01,0.02,0.03,0.04,0.05,0.06,0.07,0.08,0.09,0.1,0.2,0.3,0.4,0.5,0.6,0.7,0.8,0.9,1],
                "tickSize": {"condition": {"test": "abs(log(datum.value)/LN10 - round(log(datum.value)/LN10)) < 0.01", "value": -6}, "value": -3}}}
          }
        }
      ]
    },
    {
      "width": 588, "height": 561,
      "title": {"text": "clothing stores"},
      "data": {"name": "clothing"},
      "layer": [
        {
          "mark": {"type": "line", "clip": true},
          "encoding": {
            "x": {"field": "n", "type": "quantitative", "scale": {"type": "log", "domain": [10, 5000], "nice": false},
              "axis": {"orient": "bottom", "title": "number of customers", "titleY": 95, "titleBaseline": "alphabetic", "labelPadding": 12, "labelBaseline": "top",
                "values": [10,20,30,40,50,60,70,80,90,100,200,300,400,500,600,700,800,900,1000,2000,3000,4000,5000],
                "labelExpr": "abs(log(datum.value)/LN10 - round(log(datum.value)/LN10)) < 0.01 ? '10' + (datum.value < 0.5 ? '⁻' : '') + ['⁰','¹','²','³','⁴','⁵'][abs(round(log(datum.value)/LN10))] : ''",
                "tickSize": {"condition": {"test": "abs(log(datum.value)/LN10 - round(log(datum.value)/LN10)) < 0.01", "value": -6}, "value": -3}}},
            "y": {"field": "ccdf", "type": "quantitative", "scale": {"type": "log", "domain": [0.0001, 1], "nice": false},
              "axis": {"orient": "left", "title": "ccdf", "titleX": -102, "titleY": 280.5, "titleAngle": -90, "titleBaseline": "alphabetic", "titleAlign": "center", "labelPadding": 7, "labelBaseline": "middle",
                "values": [0.0001,0.0002,0.0003,0.0004,0.0005,0.0006,0.0007,0.0008,0.0009,0.001,0.002,0.003,0.004,0.005,0.006,0.007,0.008,0.009,0.01,0.02,0.03,0.04,0.05,0.06,0.07,0.08,0.09,0.1,0.2,0.3,0.4,0.5,0.6,0.7,0.8,0.9,1],
                "labelExpr": "abs(log(datum.value)/LN10 - round(log(datum.value)/LN10)) < 0.01 ? '10' + (datum.value < 0.5 ? '⁻' : '') + ['⁰','¹','²','³','⁴','⁵'][abs(round(log(datum.value)/LN10))] : ''",
                "tickSize": {"condition": {"test": "abs(log(datum.value)/LN10 - round(log(datum.value)/LN10)) < 0.01", "value": -6}, "value": -3}}},
            "color": {"field": "code", "type": "nominal",
              "scale": {"domain": ["5611","5621","5631","5641","5651","5655","5661","5681","5691","5697","5698","5699"], "range": ["#0000ff","#8b0000","#006400","#daa520","#ff7f50","#228b22","#0000ff","#8b0000","#006400","#daa520","#ff7f50","#228b22"]},
              "legend": {"title": null, "orient": "none", "legendX": 602, "legendY": 25.5}},
            "strokeDash": {"field": "code", "type": "nominal",
              "scale": {"domain": ["5611","5621","5631","5641","5651","5655","5661","5681","5691","5697","5698","5699"], "range": [[1,0],[1,0],[1,0],[1,0],[1,0],[1,0],[8,8.5],[8,8.5],[8,8.5],[8,8.5],[8,8.5],[8,8.5]]},
              "legend": {"title": null, "orient": "none", "legendX": 602, "legendY": 25.5}}
          }
        },
        {
          "mark": {"type": "point", "opacity": 0},
          "encoding": {
            "x": {"field": "n", "type": "quantitative", "scale": {"type": "log", "domain": [10, 5000], "nice": false},
              "axis": {"orient": "top", "title": null, "labels": false, "minExtent": 0, "maxExtent": 0,
                "values": [10,20,30,40,50,60,70,80,90,100,200,300,400,500,600,700,800,900,1000,2000,3000,4000,5000],
                "tickSize": {"condition": {"test": "abs(log(datum.value)/LN10 - round(log(datum.value)/LN10)) < 0.01", "value": -6}, "value": -3}}},
            "y": {"field": "ccdf", "type": "quantitative", "scale": {"type": "log", "domain": [0.0001, 1], "nice": false},
              "axis": {"orient": "right", "title": null, "labels": false, "minExtent": 0, "maxExtent": 0,
                "values": [0.0001,0.0002,0.0003,0.0004,0.0005,0.0006,0.0007,0.0008,0.0009,0.001,0.002,0.003,0.004,0.005,0.006,0.007,0.008,0.009,0.01,0.02,0.03,0.04,0.05,0.06,0.07,0.08,0.09,0.1,0.2,0.3,0.4,0.5,0.6,0.7,0.8,0.9,1],
                "tickSize": {"condition": {"test": "abs(log(datum.value)/LN10 - round(log(datum.value)/LN10)) < 0.01", "value": -6}, "value": -3}}}
          }
        }
      ]
    }
  ]
}
